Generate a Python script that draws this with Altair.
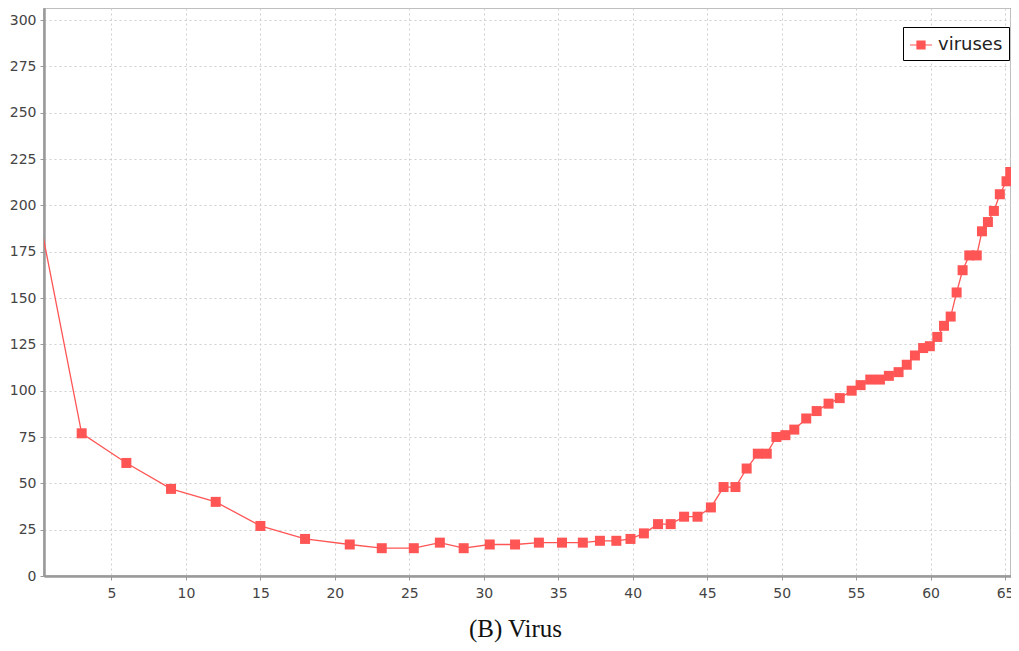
import altair as alt
import pandas as pd

# data
x_vals = [0, 3, 6, 9, 12, 15, 18, 21, 23.15, 25.3, 27.05, 28.65, 30.4, 32.1, 33.7,
          35.25, 36.65, 37.8, 38.9, 39.85, 40.75, 41.7, 42.55, 43.45, 44.35, 45.25,
          46.1, 46.9, 47.65, 48.4, 49.0, 49.65, 50.25, 50.85, 51.65, 52.35, 53.15,
          53.9, 54.7, 55.3, 55.95, 56.6, 57.2, 57.85, 58.4, 58.95, 59.5, 59.95,
          60.45, 60.9, 61.35, 61.75, 62.15, 62.6, 63.1, 63.45, 63.85, 64.25, 64.65,
          65.1, 65.35]
y_vals = [200, 77, 61, 47, 40, 27, 20, 17, 15, 15, 18, 15, 17, 17, 18, 18, 18, 19,
          19, 20, 23, 28, 28, 32, 32, 37, 48, 48, 58, 66, 66, 75, 76, 79, 85, 89,
          93, 96, 100, 103, 106, 106, 108, 110, 114, 119, 123, 124, 129, 135, 140,
          153, 165, 173, 173, 186, 191, 197, 206, 213, 218]
series_name = "viruses"
x_ticks = [5, 10, 15, 20, 25, 30, 35, 40, 45, 50, 55, 60, 65]
y_ticks = [0, 25, 50, 75, 100, 125, 150, 175, 200, 225, 250, 275, 300]
caption = "(B) Virus"

df = pd.DataFrame({"x": x_vals, "y": y_vals, "series": [series_name] * len(x_vals)})

RED = "#FF5555"
AXIS_GRAY = "#9a9a9a"

x_enc = alt.X(
    "x:Q",
    scale=alt.Scale(domain=[0.47, 65.4], nice=False, zero=False),
    axis=alt.Axis(values=x_ticks, title=None, labelFlush=False, tickSize=4,
                  labelPadding=6, domainColor=AXIS_GRAY, domainWidth=2.5,
                  tickColor=AXIS_GRAY, gridColor="#cfcfcf", gridDash=[2, 3],
                  labelFont="DejaVu Sans", labelFontSize=14, labelColor="#444444"),
)
y_enc = alt.Y(
    "y:Q",
    scale=alt.Scale(domain=[0, 306.5], nice=False),
    axis=alt.Axis(values=y_ticks, title=None, tickSize=4, labelPadding=4,
                  domainColor=AXIS_GRAY, domainWidth=2.5, tickColor=AXIS_GRAY,
                  gridColor="#cfcfcf", gridDash=[2, 3],
                  labelFont="DejaVu Sans", labelFontSize=14, labelColor="#444444"),
)

base = alt.Chart(df)

line = base.mark_line(color=RED, strokeWidth=1.3, clip=True).encode(x=x_enc, y=y_enc)

symbol_path = "M-1,-0.05H1V0.05H-1Z M-0.42,-0.42H0.42V0.42H-0.42Z"

points = base.mark_square(size=100, filled=True, opacity=1, clip=True).encode(
    x=x_enc,
    y=y_enc,
    color=alt.Color(
        "series:N",
        scale=alt.Scale(range=[RED]),
        legend=alt.Legend(
            title=None, orient="none", legendX=859, legendY=19,
            strokeColor="black", fillColor="white", padding=6,
            symbolType=symbol_path, symbolSize=484, labelOffset=5,
            labelFont="DejaVu Sans", labelFontSize=18, labelColor="#222222",
            cornerRadius=0,
        ),
    ),
)

chart = (
    alt.layer(line, points)
    .properties(
        width=967,
        height=568,
        autosize=alt.AutoSizeParams(type="none"),
        padding={"left": 36, "top": 0, "right": 0, "bottom": 67},
        title=alt.TitleParams(
            caption, orient="bottom", anchor="middle", offset=37, dx=-12,
            baseline="alphabetic", font="Liberation Serif", fontSize=25,
            fontWeight="normal", color="#111111",
        ),
        background="white",
    )
    .configure_view(stroke="#aaaaaa", strokeWidth=1.5)
)

chart.save("out.html", embed_options={"renderer": "svg", "actions": False})
